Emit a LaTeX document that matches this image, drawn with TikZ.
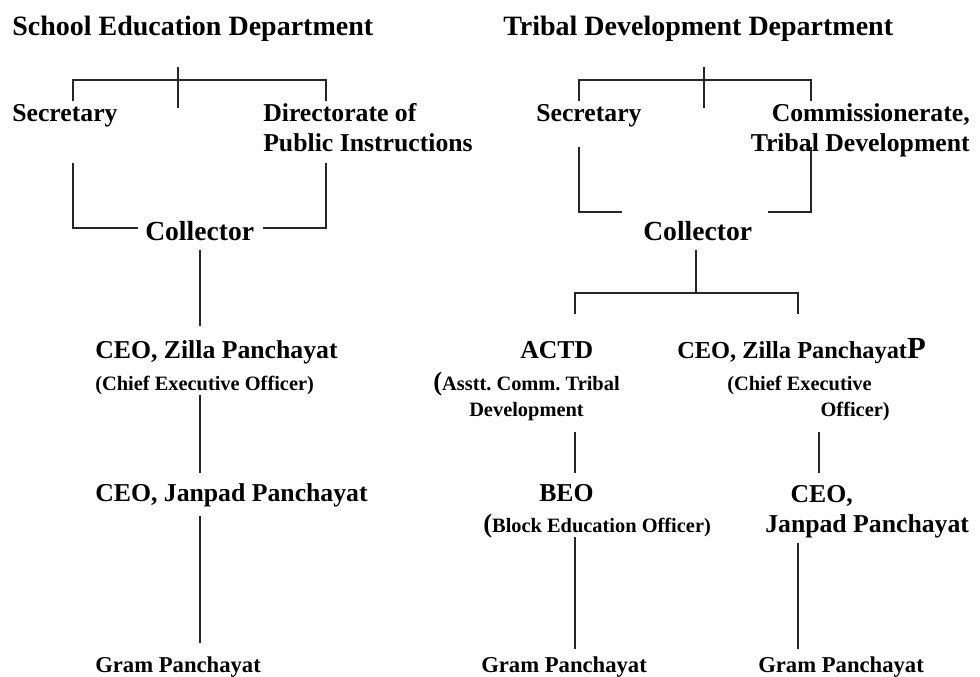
\documentclass[tikz,border=0pt]{standalone}
\usepackage{fontspec}
\setmainfont{Liberation Serif}
\usetikzlibrary{positioning}
\frenchspacing

\begin{document}
\begin{tikzpicture}[
  x=0.75pt, y=-0.75pt,
  voce/.style={inner sep=0pt, anchor=base west},
  intestazione/.style={voce, font=\fontsize{21}{25}\selectfont\bfseries},
  ufficio/.style={voce, font=\fontsize{19.3}{22.5}\selectfont\bfseries},
  collettore/.style={voce, font=\fontsize{20.7}{25}\selectfont\bfseries},
  nota/.style={voce, font=\fontsize{15.3}{19.5}\selectfont\bfseries},
  gram/.style={voce, font=\fontsize{17}{20}\selectfont\bfseries},
  collegamento/.style={draw=black!85, line width=0.8pt}
]
\useasboundingbox (0,0) rectangle (980,677);

% school education department
\node[intestazione] (sed) at (12,36) {School Education Department};
\node[ufficio] (sedSec) at (12,122) {Secretary};
\node[ufficio, align=left] (sedDpi) at (263,152) {Directorate of\\Public Instructions};
\node[collettore] (sedCol) at (145,240) {Collector};
\node[ufficio] (sedZp) at (95,358) {CEO, Zilla Panchayat};
\node[nota] (sedZpN) at (95,390) {(Chief Executive Officer)};
\node[ufficio] (sedJp) at (95,501) {CEO, Janpad Panchayat};
\node[gram] (sedGp) at (95,672) {Gram Panchayat};

\coordinate (sedT) at (178,67);
\coordinate (sedB) at (178,108);
\coordinate (sedL) at (73,80);
\coordinate (sedR) at (326,80);
\coordinate (sedLL) at (73,228);
\coordinate (sedRL) at (326,228);
\draw[collegamento] (sedT) -- (sedB);
\draw[collegamento] (sedL) ++(0,21) -- (sedL) -- (sedR) -- ++(0,21);
\draw[collegamento] (sedLL) ++(0,-65) -- (sedLL) -- ++(65,0);
\draw[collegamento] (sedRL) ++(0,-65) -- (sedRL) -- ++(-63,0);

\coordinate (sedS1) at (200,250);
\coordinate (sedS2) at (200,395);
\coordinate (sedS3) at (200,516);
\draw[collegamento] (sedS1) -- ++(0,76);
\draw[collegamento] (sedS2) -- ++(0,78);
\draw[collegamento] (sedS3) -- ++(0,127);

% tribal development department
\node[intestazione] (tdd) at (503,36) {Tribal Development Department};
\node[ufficio] (tddSec) at (536,122) {Secretary};
\node[ufficio, align=right, anchor=base east] (tddCom) at (970,152) {Commissionerate,\\Tribal Development};
\node[collettore] (tddCol) at (643,240) {Collector};
\node[ufficio] (tddActd) at (520,358) {ACTD};
\node[nota, align=center] (tddActdN) at (433,416)
  {{\fontsize{20}{20}\selectfont(}Asstt. Comm. Tribal\\Development};
\node[ufficio, font=\fontsize{18.3}{22}\selectfont\bfseries] (tddZp) at (677,358)
  {CEO, Zilla Panchayat{\fontsize{23}{23}\selectfont P}};
\node[nota, align=left] (tddZpN) at (727,416) {(Chief Executive\\\hspace*{70pt}Officer)};
\node[ufficio] (tddBeo) at (539,501) {BEO};
\node[nota] (tddBeoN) at (483,532) {{\fontsize{20}{20}\selectfont(}Block Education Officer)};
\node[ufficio, align=left] (tddJp) at (765,532) {\hspace*{19pt}CEO,\\Janpad Panchayat};
\node[gram] (tddGp1) at (481,672) {Gram Panchayat};
\node[gram] (tddGp2) at (758,672) {Gram Panchayat};

\coordinate (tddT) at (704,67);
\coordinate (tddB) at (704,108);
\coordinate (tddL) at (579,80);
\coordinate (tddR) at (811,80);
\coordinate (tddLL) at (579,212);
\coordinate (tddRL) at (811,212);
\draw[collegamento] (tddT) -- (tddB);
\draw[collegamento] (tddL) ++(0,21) -- (tddL) -- (tddR) -- ++(0,21);
\draw[collegamento] (tddLL) ++(0,-65) -- (tddLL) -- ++(43,0);
\draw[collegamento] (tddRL) ++(0,-65) -- (tddRL) -- ++(-43,0);

\coordinate (tddS) at (696,250);
\coordinate (tddBl) at (575,293);
\coordinate (tddBr) at (798,293);
\draw[collegamento] (tddS) -- (tddS |- tddBl);
\draw[collegamento] (tddBl) ++(0,21) -- (tddBl) -- (tddBr) -- ++(0,21);

\coordinate (tddA1) at (575,432);
\coordinate (tddA2) at (575,537);
\coordinate (tddZ1) at (819,432);
\coordinate (tddZ2) at (798,543);
\draw[collegamento] (tddA1) -- ++(0,41);
\draw[collegamento] (tddA2) -- ++(0,112);
\draw[collegamento] (tddZ1) -- ++(0,41);
\draw[collegamento] (tddZ2) -- ++(0,106);

\end{tikzpicture}
\end{document}
